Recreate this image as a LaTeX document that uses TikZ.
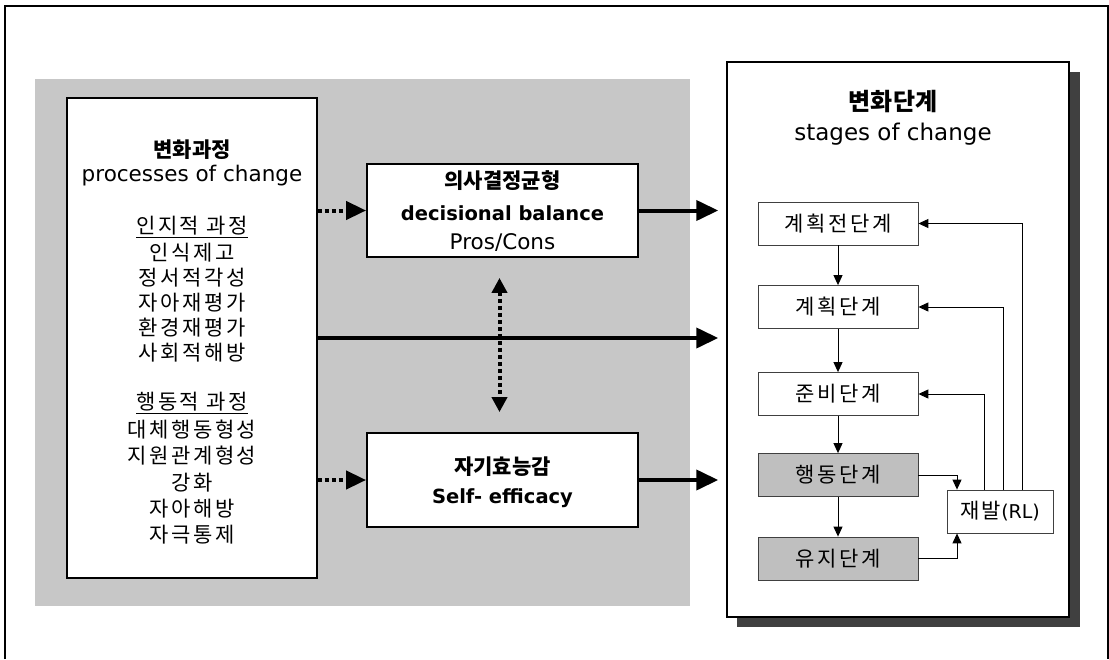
\documentclass[tikz,border=0pt]{standalone}
\usepackage{fontspec}
\setmainfont{DejaVu Sans}
\newfontfamily\kr[LetterSpace=12]{Noto Sans CJK KR}
\newfontfamily\krh{Noto Sans CJK KR}
\usetikzlibrary{arrows.meta}
\begin{document}
\begin{tikzpicture}[x=1pt,y=-1pt,
  box/.style={draw, line width=1.8pt, fill=white, inner sep=0pt},
  stagebox/.style={draw=black!75, line width=0.8pt, fill=white, inner sep=0pt,
     minimum width=160pt, minimum height=43pt, font=\kr\fontsize{21}{24}\selectfont},
  grayst/.style={stagebox, fill=black!25},
  hd/.style={inner sep=0pt, font=\krh\bfseries\fontsize{21}{25}\selectfont},
  lt/.style={inner sep=0pt, font=\fontsize{21.5}{24}\selectfont},
  ltb/.style={inner sep=0pt, font=\bfseries\fontsize{19.5}{23}\selectfont},
  kt/.style={inner sep=0pt, font=\kr\fontsize{21}{24}\selectfont},
  bigarr/.style={line width=4pt, -{Triangle[length=22pt,width=20pt]}},
  dotarr/.style={line width=4pt, dash pattern=on 4pt off 3pt, -{Triangle[length=20pt,width=18pt]}},
  dblarr/.style={line width=4pt, dash pattern=on 4pt off 3pt, {Triangle[length=15pt,width=15pt]}-{Triangle[length=15pt,width=15pt]}},
  smallarr/.style={line width=1pt, -{Triangle[length=10pt,width=9pt]}},
]
\useasboundingbox (0,0) rectangle (1109,659);
% outer frame
\draw[line width=1.2pt] (5,659) -- (5,6) -- (1108,6) -- (1108,659);
% gray background region
\fill[black!22] (35,79) rectangle (690,606);
% shadow + stages box
\fill[black!75] (737,72) rectangle (1080,627);
\node[box, line width=1.5pt, minimum width=342pt, minimum height=555pt] (stg) at (898,339.5) {};

% left box
\node[box, minimum width=250pt, minimum height=480pt] (proc) at (192,338) {};
\node[hd] (pt1) at (192,150) {변화과정};
\node[lt] (pt2) at (192,176) {processes of change};
\node[kt] (c0) at (192,227) {\underline{인지적 과정}};
\foreach \t [count=\i] in {인식제고,정서적각성,자아재평가,환경재평가,사회적해방}
  \node[kt] (c\i) at (192,227+25.2*\i) {\t};
\node[kt] (b0) at (192,403) {\underline{행동적 과정}};
\foreach \t [count=\i] in {대체행동형성,지원관계형성,강화,자아해방,자극통제}
  \node[kt] (b\i) at (192,403+26.4*\i) {\t};

% middle boxes
\node[box, minimum width=271pt, minimum height=93pt] (dec) at (502.5,210.5) {};
\node[hd] (d1) at (502.5,181) {의사결정균형};
\node[ltb] (d2) at (502.5,213) {decisional balance};
\node[lt] (d3) at (502.5,243) {Pros/Cons};
\node[box, minimum width=271pt, minimum height=94pt] (se) at (502.5,480) {};
\node[hd] (e1) at (502.5,467) {자기효능감};
\node[ltb] (e2) at (502.5,498) {Self- efficacy};

% stages title
\node[hd, font=\krh\bfseries\fontsize{24}{28}\selectfont] (st1) at (893,102) {변화단계};
\node[lt, font=\fontsize{23}{27}\selectfont] (st2) at (893,134) {stages of change};

% stage boxes
\node[stagebox] (s1) at (838,223.5) {계획전단계};
\node[stagebox] (s2) at (838,307) {계획단계};
\node[stagebox] (s3) at (838,394) {준비단계};
\node[grayst] (s4) at (838,475) {행동단계};
\node[grayst] (s5) at (838,558.5) {유지단계};
\node[stagebox, minimum width=106pt] (rl) at (1000,511.5) {재발{\fontspec{DejaVu Sans}\fontsize{19}{22}\selectfont (RL)}};

% big arrows
\draw[dotarr] (proc.east |- dec.west) -- (dec.west);
\draw[dotarr] (proc.east |- se.west) -- (se.west);
\draw[bigarr, shorten >=8pt] (proc.east) -- (stg.west |- proc.east);
\draw[bigarr, shorten >=8pt] (dec.east) -- (stg.west |- dec.east);
\draw[bigarr, shorten >=8pt] (se.east) -- (stg.west |- se.east);
\draw[dblarr, shorten <=20pt, shorten >=20pt] ([xshift=-3pt]dec.south) -- ([xshift=-3pt]se.north);

% stage arrows
\draw[smallarr] (s1) -- (s2);
\draw[smallarr] (s2) -- (s3);
\draw[smallarr] (s3) -- (s4);
\draw[smallarr] (s4) -- (s5);
\draw[smallarr] ([xshift=-16pt]rl.north) |- (s3.east);
\draw[smallarr] ([xshift=3pt]rl.north) |- (s2.east);
\draw[smallarr] ([xshift=22pt]rl.north) |- (s1.east);
\draw[smallarr] (s4.east) -| ([xshift=-43pt]rl.north);
\draw[smallarr] (s5.east) -| ([xshift=-43pt]rl.south);
\end{tikzpicture}
\end{document}
